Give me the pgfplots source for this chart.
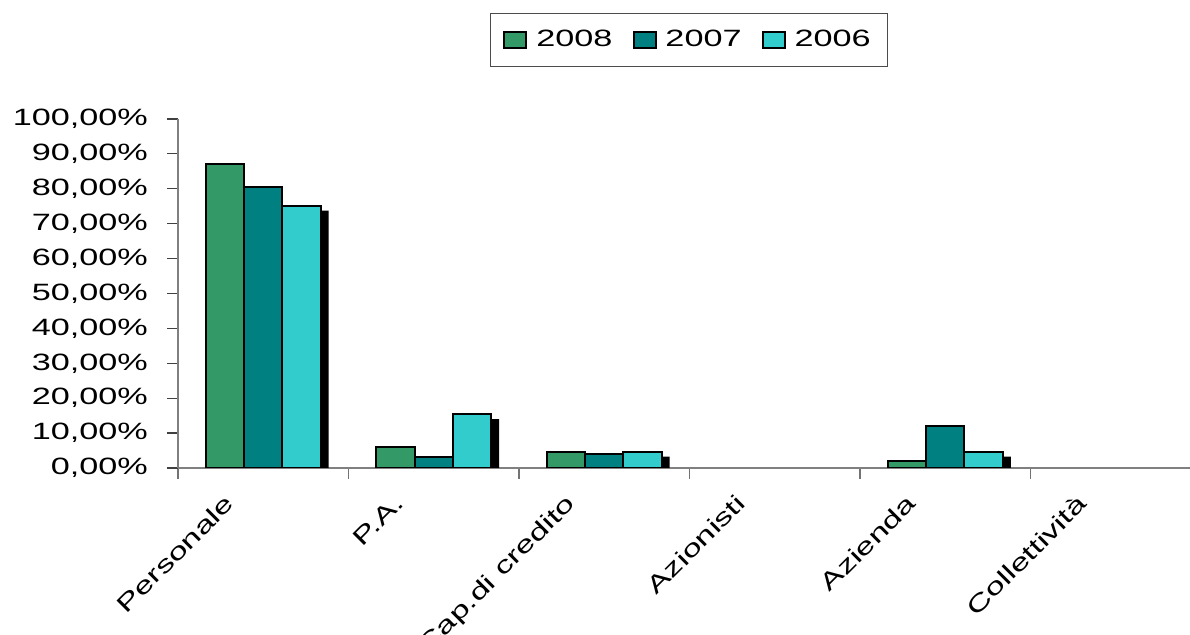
\documentclass[border=0pt]{standalone}
\usepackage{fontspec}
\setmainfont{Liberation Sans}[FakeStretch=1.45]
\usepackage{pgfplots}
\usepackage{pgfplotstable}
\pgfplotsset{compat=1.18}

\definecolor{c2008}{HTML}{339966}
\definecolor{c2007}{HTML}{008080}
\definecolor{c2006}{HTML}{33CCCC}

% share of value added by stakeholder, in percent
\pgfplotstableread{
idx y2008 y2007 y2006
0   87.1  80.5  75.2
1   5.9   3.2   15.4
2   4.7   4.0   4.7
3   0     0     0
4   1.9   12.1  4.7
5   0     0     0
}\datatable

\begin{document}
\begin{tikzpicture}
\begin{axis}[
  scale only axis, width=506pt, height=174.5pt,
  xmin=-0.5, xmax=5.435, ymin=0, ymax=100,
  ybar, bar width=19.15pt,
  axis x line*=bottom, axis y line*=left,
  axis line style={draw=black!50, line width=1pt},
  tick align=outside,
  major tick length=5.5pt, minor tick length=5.5pt,
  xtick={0,...,5},
  xticklabels={Personale, P.A., Cap.di credito, Azionisti, Azienda, Collettività},
  major x tick style={draw=none},
  minor xtick={-0.5,0.5,1.5,2.5,3.5,4.5},
  minor x tick style={draw=black!55, line width=0.7pt},
  ytick={0,10,...,100},
  yticklabels={{0,00\%},{10,00\%},{20,00\%},{30,00\%},{40,00\%},{50,00\%},{60,00\%},{70,00\%},{80,00\%},{90,00\%},{100,00\%}},
  y tick style={draw=black!75, line width=0.6pt},
  tick label style={font=\fontsize{11.8}{14}\selectfont},
  yticklabel style={xshift=-6pt},
  xticklabel style={xshift=-20pt, yshift=-4pt, rotate=45, anchor=north east, inner sep=2pt},
  unbounded coords=discard,
  legend columns=3,
  legend style={at={(0.505,1.2264)}, anchor=center, draw=black!70, line width=0.6pt,
    font=\fontsize{11.8}{14}\selectfont, inner xsep=6.5pt, inner ysep=6.5pt,
    /tikz/every odd column/.append style={column sep=2.5pt},
    /tikz/column 2/.style={column sep=8pt},
    /tikz/column 4/.style={column sep=8pt}},
  legend image code/.code={\draw[#1, draw=black, line width=1pt] (0pt,-4pt) rectangle (11pt,4pt);},
]
  % drop shadow behind the 2006 bars
  \addplot[fill=black, draw=none, bar shift=23.15pt, forget plot,
    y filter/.expression={y<=0 ? nan : y}]
    table[x=idx, y expr={max(\thisrow{y2006}-1.43,0)}] {\datatable};
  \addplot[fill=c2008, draw=black, line width=1pt, bar shift=-19.15pt,
    y filter/.expression={y==0 ? nan : y}]
    table[x=idx, y=y2008] {\datatable};
  \addlegendentry{2008}
  \addplot[fill=c2007, draw=black, line width=1pt, bar shift=0pt,
    y filter/.expression={y==0 ? nan : y}]
    table[x=idx, y=y2007] {\datatable};
  \addlegendentry{2007}
  \addplot[fill=c2006, draw=black, line width=1pt, bar shift=19.15pt,
    y filter/.expression={y==0 ? nan : y}]
    table[x=idx, y=y2006] {\datatable};
  \addlegendentry{2006}
  \coordinate (o) at (axis cs:-0.5,0);
\end{axis}
\pgfresetboundingbox
\useasboundingbox ([shift={(-89pt,234pt)}]o) rectangle ([shift={(506pt,-83.5pt)}]o);
\end{tikzpicture}
\end{document}
